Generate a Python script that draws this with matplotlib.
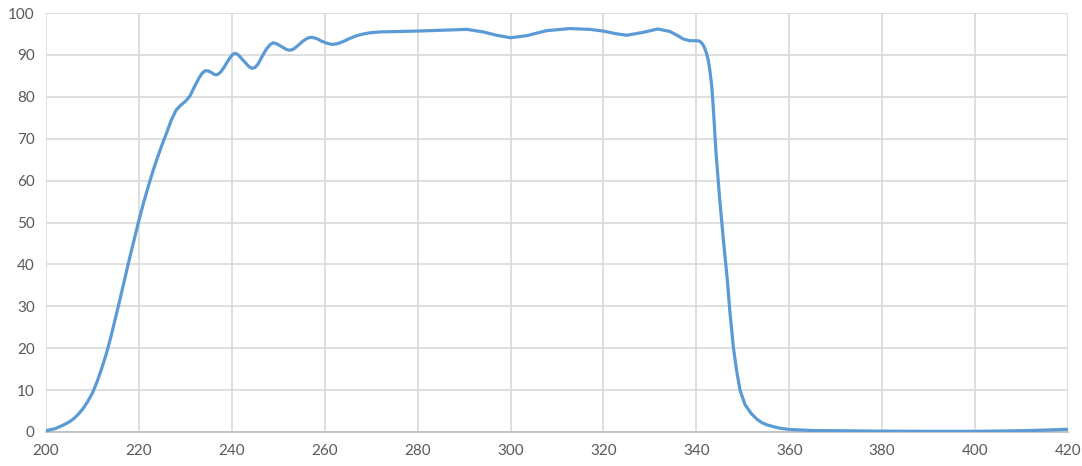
import matplotlib
matplotlib.use('Agg')
import matplotlib.pyplot as plt

# wavelength (nm) and transmission (%)
wavelength = [200, 202, 204, 205, 206, 207, 208, 209, 210, 211, 212, 213, 214, 215, 216, 217,
              218, 219, 220, 221, 222, 223, 224, 225, 226, 227,
              228, 229, 230, 231, 232, 233, 233.6, 234.2, 234.9, 235.6, 236.3, 236.9, 237.6,
              238.3, 238.9, 239.6, 240.2, 240.7, 241.3, 241.9, 242.8, 243.6, 244.3, 245,
              245.7, 246.6, 247.5, 248.3, 248.9, 249.6, 250.7, 251.8, 252.5, 253.3, 254.3,
              255.3, 256.3, 257, 257.7, 258.5, 259.3, 260.5, 261.6, 262.8, 264, 265.5,
              266.9, 268.3, 269.8, 272, 276, 280, 285, 290.6, 294.1, 297, 300, 303.5,
              307.8, 312.8, 317.1, 320, 322.5, 325, 328.6, 331.7, 334.3, 336, 337.2, 338.6,
              340, 340.7, 341.2, 341.7, 342.2, 342.6, 342.9, 343.3, 343.6, 344.2, 345,
              345.9, 346.7, 347.2, 348, 348.7, 349.4, 350.5, 351.9, 353, 354, 355.2,
              356.5, 358, 360, 365, 370, 380, 390, 400, 410, 415, 420]
transmission = [0.3, 0.8, 1.8, 2.4, 3.2, 4.3, 5.6, 7.3, 9.3, 12.0, 15.2, 18.7, 22.8, 27.4, 32.0, 36.8,
                41.5, 46.0, 50.5, 54.7, 58.5, 62.2, 65.5, 68.6, 71.5, 74.5,
                76.8, 78.0, 78.9, 80.2, 82.5, 84.6, 85.6, 86.2, 86.2, 85.8, 85.3, 85.3, 85.9,
                87.0, 88.1, 89.3, 90.1, 90.4, 90.1, 89.4, 88.3, 87.3, 86.8, 87.0,
                87.9, 89.8, 91.5, 92.5, 92.9, 92.7, 92.0, 91.3, 91.1, 91.4, 92.3,
                93.3, 94.0, 94.2, 94.1, 93.8, 93.3, 92.8, 92.5, 92.7, 93.2, 94.0,
                94.6, 95.0, 95.3, 95.5, 95.6, 95.7, 95.9, 96.1, 95.5, 94.7, 94.1, 94.6,
                95.8, 96.3, 96.1, 95.7, 95.1, 94.7, 95.4, 96.2, 95.6, 94.6, 93.8, 93.4,
                93.4, 93.3, 92.8, 91.9, 90.4, 88.6, 86.4, 82.8, 78.4, 67.3, 56.0,
                45.0, 36.0, 29.0, 20.0, 14.5, 10.0, 6.5, 4.3, 3.1, 2.3, 1.7,
                1.3, 0.9, 0.6, 0.35, 0.3, 0.2, 0.15, 0.15, 0.3, 0.45, 0.65]

x_ticks = list(range(200, 421, 20))
y_ticks = list(range(0, 101, 10))

plt.rcParams['font.family'] = ['Lato', 'DejaVu Sans']

fig = plt.figure(figsize=(10.82, 4.66), dpi=100)
ax = fig.add_axes([0.0425, 0.073, 0.9445, 0.899])

ax.plot(wavelength, transmission, color='#5b9bd5', linewidth=2.3,
        solid_joinstyle='round', solid_capstyle='round', zorder=3)

ax.set_xlim(200, 420)
ax.set_ylim(0, 100)
ax.set_xticks(x_ticks)
ax.set_yticks(y_ticks)
ax.grid(True, color='#d9d9d9', linewidth=1.2)
ax.set_axisbelow(True)

for side in ['top', 'right', 'left']:
    ax.spines[side].set_visible(False)
ax.spines['bottom'].set_color('#bfbfbf')
ax.spines['bottom'].set_linewidth(1.3)

ax.tick_params(axis='both', length=0, labelsize=11, labelcolor='#595959')
ax.tick_params(axis='y', pad=8)
ax.tick_params(axis='x', pad=9)

fig.savefig('out.png', dpi=100)
